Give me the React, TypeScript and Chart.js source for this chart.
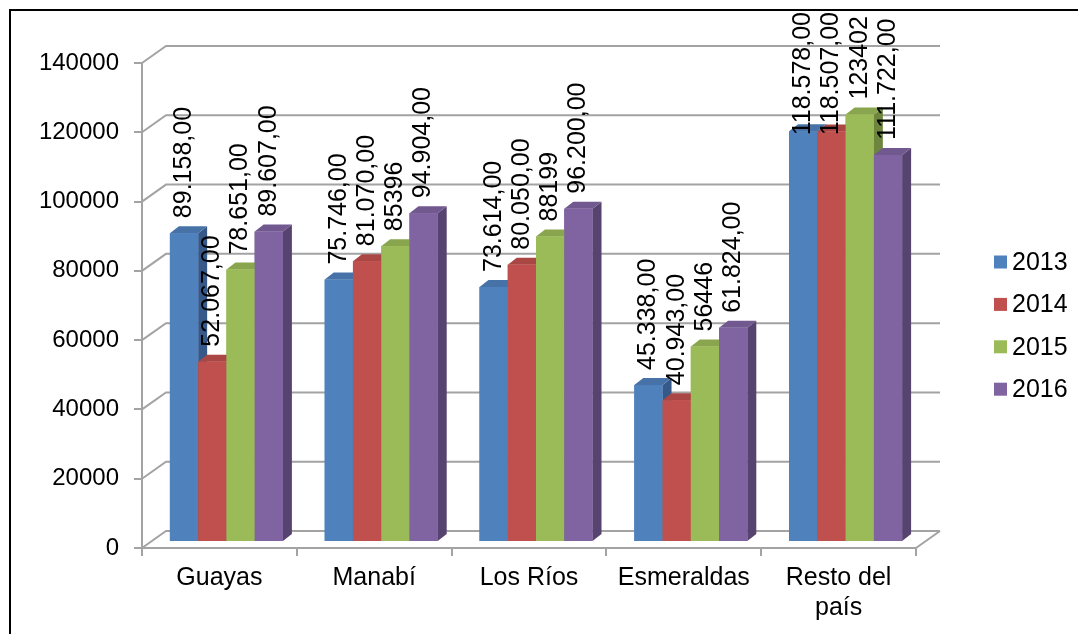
import React, { useEffect, useRef } from 'react';
import { Chart, registerables } from 'chart.js';

Chart.register(...registerables);

const categories: (string | string[])[] = ['Guayas', 'Manabí', 'Los Ríos', 'Esmeraldas', ['Resto del', 'país']];
const years = ['2013', '2014', '2015', '2016'];
const values2013 = [89158, 75746, 73614, 45338, 118578];
const values2014 = [52067, 81070, 80050, 40943, 118507];
const values2015 = [78651, 85396, 88199, 56446, 123402];
const values2016 = [89607, 94904, 96200, 61824, 111722];
const labels2013 = ['89.158,00', '75.746,00', '73.614,00', '45.338,00', '118.578,00'];
const labels2014 = ['52.067,00', '81.070,00', '80.050,00', '40.943,00', '118.507,00'];
const labels2015 = ['78.651,00', '85396', '88199', '56446', '123402'];
const labels2016 = ['89.607,00', '94.904,00', '96.200,00', '61.824,00', '111.722,00'];
const yMin = 0;
const yMax = 140000;
const yStep = 20000;

const seriesValues = [values2013, values2014, values2015, values2016];
const seriesLabels = [labels2013, labels2014, labels2015, labels2016];
const frontColors = ['#4F81BD', '#C0504D', '#9BBB59', '#8064A2'];
const topColors = ['#4672A8', '#AA4744', '#89A64F', '#715990'];
const sideColors = ['#37598A', '#8A3836', '#6E853E', '#56436F'];

const FONT = "'Liberation Sans', Arial, sans-serif";
const GRID = '#A3A3A3';
const DX = 7;
const DY = -6;
const DEPTH_X = 9;
const DEPTH_Y = -7;
const BACK_X = 24;
const BACK_Y = -17;
const LABEL_GAP = 15;
const LABEL_MIN_TOP = 12;

const excel3d = {
  id: 'excel3d',
  beforeDatasetsDraw(chart: any) {
    const { ctx, chartArea, scales } = chart;
    const y = scales.y;
    ctx.save();
    ctx.strokeStyle = GRID;
    ctx.lineWidth = 2;
    for (const t of y.ticks) {
      const py = y.getPixelForValue(t.value);
      ctx.beginPath();
      ctx.moveTo(chartArea.left, py);
      ctx.lineTo(chartArea.left + BACK_X, py + BACK_Y);
      ctx.lineTo(chartArea.right + BACK_X, py + BACK_Y);
      ctx.stroke();
    }
    const y0 = y.getPixelForValue(0);
    ctx.beginPath();
    ctx.moveTo(chartArea.right, y0);
    ctx.lineTo(chartArea.right + BACK_X, y0 + BACK_Y);
    ctx.stroke();
    ctx.restore();
    ctx.save();
    ctx.translate(DX, DY);
  },
  afterDatasetsDraw(chart: any) {
    const { ctx } = chart;
    const n = chart.data.datasets.length;
    for (let i = 0; i < n; i++) {
      const meta = chart.getDatasetMeta(i);
      meta.data.forEach((el: any) => {
        const p = el.getProps(['x', 'y', 'base', 'width'], true);
        const left = p.x - p.width / 2;
        const right = left + p.width;
        const t = p.y;
        const b = p.base;
        ctx.fillStyle = sideColors[i];
        ctx.beginPath();
        ctx.moveTo(right, t);
        ctx.lineTo(right + DEPTH_X, t + DEPTH_Y);
        ctx.lineTo(right + DEPTH_X, b + DEPTH_Y);
        ctx.lineTo(right, b);
        ctx.closePath();
        ctx.fill();
        ctx.fillStyle = topColors[i];
        ctx.beginPath();
        ctx.moveTo(left, t);
        ctx.lineTo(left + DEPTH_X, t + DEPTH_Y);
        ctx.lineTo(right + DEPTH_X, t + DEPTH_Y);
        ctx.lineTo(right, t);
        ctx.closePath();
        ctx.fill();
        ctx.fillStyle = frontColors[i];
        ctx.fillRect(left, t, p.width, b - t);
      });
    }
    ctx.fillStyle = '#000';
    ctx.font = `25px ${FONT}`;
    ctx.textAlign = 'left';
    ctx.textBaseline = 'middle';
    for (let i = 0; i < n; i++) {
      const meta = chart.getDatasetMeta(i);
      meta.data.forEach((el: any, j: number) => {
        const p = el.getProps(['x', 'y'], true);
        const text = seriesLabels[i][j];
        const w = ctx.measureText(text).width;
        const startAbs = Math.max(p.y + DY - LABEL_GAP, LABEL_MIN_TOP + w);
        ctx.save();
        ctx.translate(p.x, startAbs - DY);
        ctx.rotate(-Math.PI / 2);
        ctx.fillText(text, 0, 0);
        ctx.restore();
      });
    }
    ctx.restore();
  },
  afterDraw(chart: any) {
    const { ctx } = chart;
    ctx.save();
    ctx.font = `25px ${FONT}`;
    ctx.textAlign = 'left';
    ctx.textBaseline = 'middle';
    chart.data.datasets.forEach((ds: any, i: number) => {
      const cy = 262 + i * 42.4;
      ctx.fillStyle = ds.backgroundColor;
      ctx.fillRect(994, cy - 6.5, 13, 13);
      ctx.fillStyle = '#000';
      ctx.fillText(ds.label, 1012, cy + 1);
    });
    ctx.restore();
  },
};

export default function App() {
  const ref = useRef<HTMLCanvasElement>(null);
  useEffect(() => {
    if (!ref.current) return;
    const chart = new Chart(ref.current, {
      type: 'bar',
      data: {
        labels: categories as any,
        datasets: years.map((yr, i) => ({
          label: yr,
          data: seriesValues[i],
          backgroundColor: frontColors[i],
          borderWidth: 0,
          barPercentage: 1,
          categoryPercentage: 0.73,
        })),
      },
      options: {
        animation: false,
        responsive: true,
        maintainAspectRatio: false,
        layout: { padding: { top: 63, right: 162, bottom: 0, left: 0 } },
        plugins: {
          legend: { display: false },
          tooltip: { enabled: false },
        },
        scales: {
          x: {
            afterFit: (s: any) => { s.height = 86; },
            grid: { drawOnChartArea: false, drawTicks: true, tickLength: 8, color: GRID, lineWidth: 2, offset: true },
            border: { color: GRID, width: 2 },
            ticks: { color: '#000', font: { family: FONT, size: 25 }, padding: 7, maxRotation: 0, autoSkip: false },
          },
          y: {
            min: yMin,
            max: yMax,
            afterFit: (s: any) => { s.width = 142; },
            grid: { drawOnChartArea: false, drawTicks: true, tickLength: 8, color: GRID, lineWidth: 2 },
            border: { color: GRID, width: 2 },
            ticks: {
              stepSize: yStep,
              color: '#000',
              font: { family: FONT, size: 24 },
              padding: 15,
              callback: (v: any) => String(v),
            },
          },
        },
      },
      plugins: [excel3d],
    });
    return () => chart.destroy();
  }, []);

  return (
    <>
      <div style={{ position: 'fixed', left: 9, top: 9, width: 1200, height: 800, border: '2px solid #000', boxSizing: 'border-box' }} />
      <div style={{ position: 'fixed', left: 0, top: 0, width: 1078, height: 634 }}>
        <canvas ref={ref} />
      </div>
    </>
  );
}
